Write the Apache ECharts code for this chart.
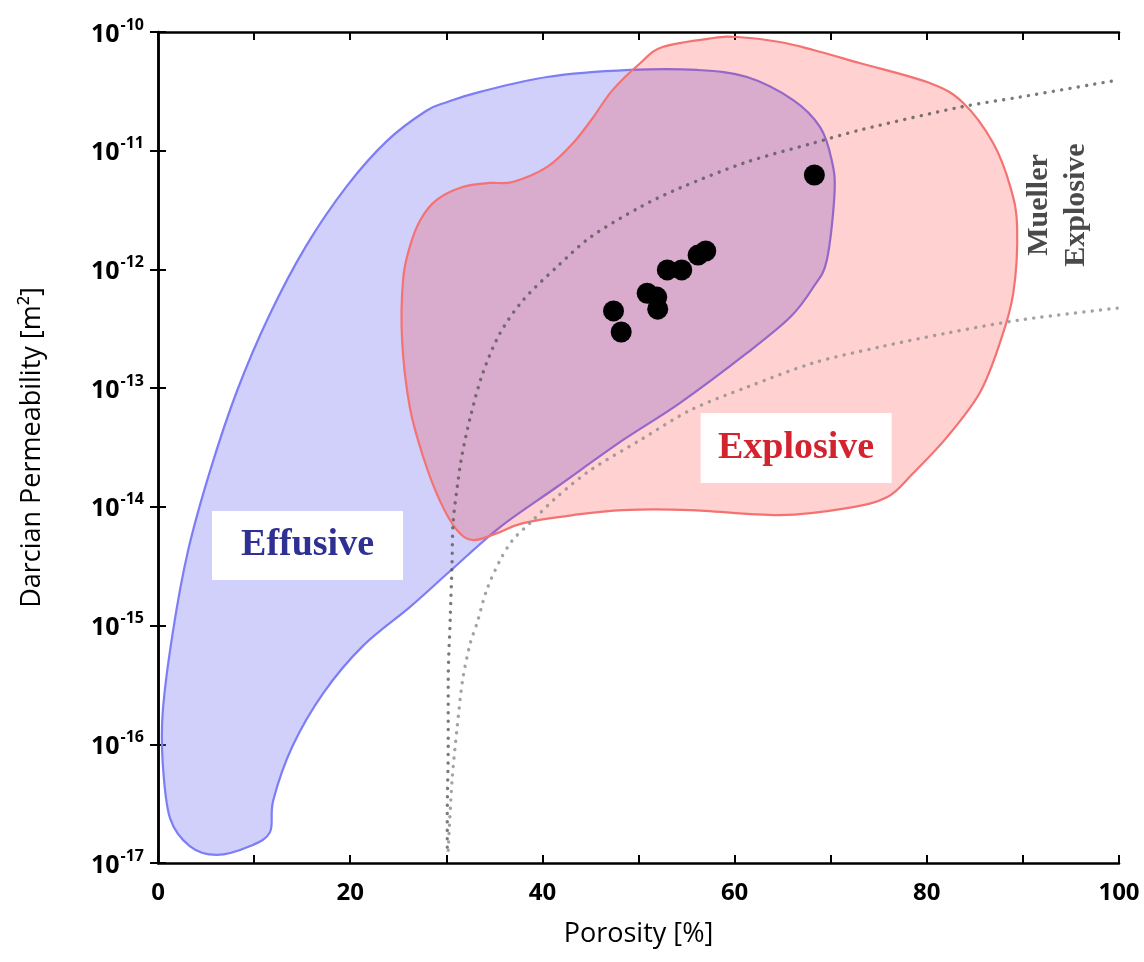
<!DOCTYPE html>
<html>
<head>
<meta charset="utf-8">
<title>Porosity vs Darcian Permeability</title>
<script src="https://cdn.jsdelivr.net/npm/echarts@6/dist/echarts.min.js"></script>
<style>
  html, body { margin: 0; padding: 0; background: #fff; }
  #chart { width: 1144px; height: 962px; }
</style>
</head>
<body>
<div id="chart"></div>
<script>
// Field outline of effusive eruption products: [porosity %, permeability m^2]
const effusiveBoundary = [
  [30.1, 2.57e-11], [33.5, 3.13e-11], [40.5, 4.18e-11], [49.1, 4.79e-11],
  [56.1, 4.79e-11], [61.3, 4.18e-11], [66.1, 2.67e-11], [68.9, 1.58e-11],
  [70.1, 8.36e-12], [70.4, 4.41e-12], [69.6, 1.2e-12], [68.2, 7.11e-13],
  [65.8, 3.97e-13], [61.3, 1.98e-13], [54.3, 7.48e-14], [48.4, 3.66e-14],
  [41.5, 1.47e-14], [35.6, 6.76e-15], [30.4, 2.88e-15], [26.2, 1.43e-15],
  [21.3, 6.71e-16], [17.2, 2.7e-16], [14.0, 9.66e-17], [12.0, 3.39e-17],
  [11.65, 1.82e-17], [9.6, 1.39e-17], [6.1, 1.17e-17], [3.3, 1.39e-17],
  [1.25, 2.39e-17], [0.5, 6.81e-17], [0.5, 1.9e-16], [1.56, 8.99e-16],
  [3.12, 4.25e-15], [5.41, 2.0e-14], [8.22, 9.46e-14], [11.55, 4.05e-13],
  [15.4, 1.57e-12], [19.67, 5.05e-12], [23.83, 1.21e-11], [27.89, 2.16e-11]
];

// Field outline of explosive eruption products
const explosiveBoundary = [
  [50.2, 5.48e-11], [52.5, 7.48e-11], [57.8, 8.9e-11], [60.3, 9.08e-11],
  [64.7, 8.24e-11], [68.2, 7.05e-11], [73.0, 5.48e-11], [80.3, 3.72e-11],
  [83.8, 2.52e-11], [86.9, 1.16e-11], [88.7, 4.94e-12], [89.4, 2.28e-12],
  [89.0, 6.32e-13], [87.6, 2.4e-13], [85.5, 9.1e-14], [82.1, 3.87e-14],
  [78.6, 1.93e-14], [75.9, 1.21e-14], [71.7, 9.77e-15], [64.7, 8.53e-15],
  [55.4, 9.4e-15], [48.4, 9.4e-15], [43.2, 8.53e-15], [38.0, 7.3e-15],
  [35.3, 6.01e-15], [32.8, 5.25e-15], [31.1, 6.38e-15], [29.3, 1.14e-14],
  [27.6, 2.63e-14], [26.2, 6.93e-14], [25.4, 2.54e-13], [25.5, 8.15e-13],
  [26.2, 1.55e-12], [27.3, 2.61e-12], [29.0, 3.85e-12], [31.7, 4.94e-12],
  [34.5, 5.35e-12], [36.9, 5.45e-12], [40.5, 7.3e-12], [43.2, 1.16e-11],
  [45.3, 1.92e-11], [47.3, 3.24e-11]
];

// Upper and lower bounds of the Mueller explosive trend
const muellerUpper = [
  [30.1, 1.36e-17], [30.1, 2.63e-17], [30.2, 9.46e-17], [30.2, 3.48e-16],
  [30.4, 1.11e-15], [30.6, 3.37e-15], [30.7, 7.3e-15], [31.1, 1.39e-14],
  [31.6, 2.63e-14], [32.5, 5.71e-14], [33.8, 1.34e-13], [35.6, 2.91e-13],
  [38.0, 5.52e-13], [41.5, 1.05e-12], [45.0, 1.87e-12], [50.2, 3.36e-12],
  [54.3, 4.85e-12], [61.3, 8.04e-12], [68.2, 1.16e-11], [73.0, 1.49e-11],
  [83.5, 2.33e-11], [89.7, 2.83e-11], [99.9, 3.94e-11]
];
const muellerLower = [
  [30.2, 1.28e-17], [30.6, 4.99e-17], [31.1, 1.32e-16], [31.7, 3.48e-16],
  [32.5, 7.13e-16], [33.2, 1.05e-15], [34.2, 1.99e-15], [35.6, 3.56e-15],
  [36.9, 5.25e-15], [38.7, 7.3e-15], [41.5, 1.21e-14], [45.0, 2.04e-14],
  [50.2, 3.66e-14], [55.4, 6.53e-14], [61.3, 1.02e-13], [68.2, 1.63e-13],
  [75.1, 2.22e-13], [82.1, 2.91e-13], [89.7, 3.75e-13], [99.9, 4.73e-13]
];

// Measured samples
const samplePorosity = [47.4, 48.2, 50.9, 51.9, 52.0, 53.0, 54.5, 56.2, 57.0, 68.3];
const samplePermeability = [4.47e-13, 2.97e-13, 6.3e-13, 5.85e-13, 4.63e-13, 9.9e-13, 9.9e-13, 1.32e-12, 1.43e-12, 6.24e-12];

// Anchor points of the field labels
const effusiveLabelAt = [15.56, 4.72e-15];
const explosiveLabelAt = [66.4, 3.13e-14];
const muellerLabelAt = [93.65, 3.49e-12];

const SANS = "'Open Sans', 'Noto Sans', sans-serif";
const SERIF = "'Liberation Serif', 'DejaVu Serif', serif";

// Closed Catmull-Rom curve through screen points, written as cubic Bezier path data
function closedCurvePath(pts) {
  const n = pts.length;
  let d = 'M' + pts[0][0] + ' ' + pts[0][1];
  for (let i = 0; i < n; i++) {
    const p0 = pts[(i - 1 + n) % n], p1 = pts[i], p2 = pts[(i + 1) % n], p3 = pts[(i + 2) % n];
    const c1x = p1[0] + (p2[0] - p0[0]) / 6, c1y = p1[1] + (p2[1] - p0[1]) / 6;
    const c2x = p2[0] - (p3[0] - p1[0]) / 6, c2y = p2[1] - (p3[1] - p1[1]) / 6;
    d += 'C' + c1x + ' ' + c1y + ' ' + c2x + ' ' + c2y + ' ' + p2[0] + ' ' + p2[1];
  }
  return d + 'Z';
}

function polygonSeries(name, points, fill, stroke) {
  return {
    type: 'custom',
    name: name,
    data: points,
    encode: { x: 0, y: 1 },
    silent: true,
    renderItem: function (params, api) {
      if (params.dataIndex !== 0) return null;
      const pts = points.map(function (p) { return api.coord(p); });
      return {
        type: 'path',
        shape: { pathData: closedCurvePath(pts), layout: 'cover' },
        style: { fill: fill, stroke: stroke, lineWidth: 2.2 }
      };
    }
  };
}

function dottedSeries(name, points, color) {
  return {
    type: 'line',
    name: name,
    data: points,
    smooth: 0.3,
    symbol: 'none',
    silent: true,
    lineStyle: { color: color, width: 3.4, type: [0.1, 8.3], cap: 'round' }
  };
}

function labelSeries(at, text, labelOpts) {
  return {
    type: 'scatter',
    data: [at],
    symbolSize: 1,
    itemStyle: { color: 'rgba(0,0,0,0)', opacity: 1 },
    silent: true,
    z: 5,
    label: Object.assign({ show: true, position: 'inside', formatter: text, opacity: 1 }, labelOpts)
  };
}

const chart = echarts.init(document.getElementById('chart'), null, { renderer: 'canvas' });

const axisLineStyle = { lineStyle: { color: '#000', width: 2.5 } };
const tickStyle = { show: true, inside: true, length: 8, lineStyle: { color: '#000', width: 2 } };

chart.setOption({
  animation: false,
  backgroundColor: '#fff',
  grid: { left: 158, right: 25, top: 32, bottom: 99 },
  xAxis: [
    {
      type: 'value', min: 0, max: 100, interval: 10,
      name: 'Porosity [%]', nameLocation: 'middle', nameGap: 58,
      nameTextStyle: { fontFamily: SANS, fontSize: 27, color: '#000' },
      axisLine: axisLineStyle, axisTick: tickStyle, splitLine: { show: false },
      axisLabel: {
        margin: 18, fontFamily: SANS, fontSize: 24, fontWeight: 'bold', color: '#000',
        formatter: function (v) { return v % 20 === 0 ? String(v) : ''; }
      }
    },
    {
      type: 'value', min: 0, max: 100, interval: 10, position: 'top',
      axisLine: axisLineStyle, axisTick: tickStyle, splitLine: { show: false },
      axisLabel: { show: false }
    }
  ],
  yAxis: [
    {
      type: 'log', logBase: 10, min: 1e-17, max: 1e-10, splitNumber: 7,
      name: 'Darcian Permeability [m²]', nameLocation: 'middle', nameGap: 112,
      nameTextStyle: { fontFamily: SANS, fontSize: 27, color: '#000' },
      axisLine: axisLineStyle, axisTick: tickStyle, splitLine: { show: false },
      minorTick: { show: false },
      axisLabel: {
        margin: 14,
        formatter: function (v) {
          const e = Math.round(Math.log10(v));
          return '{b|10}{s|' + e + '}';
        },
        rich: {
          b: { fontFamily: SANS, fontSize: 25, fontWeight: 'bold', color: '#000', verticalAlign: 'bottom', lineHeight: 30 },
          s: { fontFamily: SANS, fontSize: 16, fontWeight: 'bold', color: '#000', verticalAlign: 'bottom', lineHeight: 30, padding: [0, 0, 14, 1] }
        }
      }
    },
    {
      type: 'log', logBase: 10, min: 1e-17, max: 1e-10, splitNumber: 7, position: 'right',
      axisLine: axisLineStyle, axisTick: tickStyle, splitLine: { show: false },
      minorTick: { show: false }, axisLabel: { show: false }
    }
  ],
  series: [
    polygonSeries('Effusive', effusiveBoundary, 'rgba(121,121,244,0.35)', '#7d7df6'),
    polygonSeries('Explosive', explosiveBoundary, 'rgba(255,10,10,0.19)', '#f47272'),
    dottedSeries('Mueller lower', muellerLower, 'rgba(140,140,140,0.8)'),
    dottedSeries('Mueller upper', muellerUpper, 'rgba(85,85,85,0.78)'),
    {
      type: 'scatter',
      name: 'Samples',
      data: samplePorosity.map(function (x, i) { return [x, samplePermeability[i]]; }),
      symbol: 'circle',
      symbolSize: 21,
      itemStyle: { color: '#000', opacity: 1 }
    },
    labelSeries(effusiveLabelAt, 'Effusive', {
      fontFamily: SERIF, fontSize: 38, fontWeight: 'bold', color: '#2e3192',
      backgroundColor: '#fff', width: 191, height: 69, lineHeight: 69,
      align: 'center', verticalAlign: 'middle'
    }),
    labelSeries(explosiveLabelAt, 'Explosive', {
      fontFamily: SERIF, fontSize: 38, fontWeight: 'bold', color: '#d2232f',
      backgroundColor: '#fff', width: 191, height: 70, lineHeight: 70,
      align: 'center', verticalAlign: 'middle'
    }),
    labelSeries(muellerLabelAt, 'Mueller\nExplosive', {
      fontFamily: SERIF, fontSize: 30, fontWeight: 'bold', color: '#4a4a4a',
      lineHeight: 37, rotate: 90, align: 'center', verticalAlign: 'middle'
    })
  ]
});
</script>
</body>
</html>
